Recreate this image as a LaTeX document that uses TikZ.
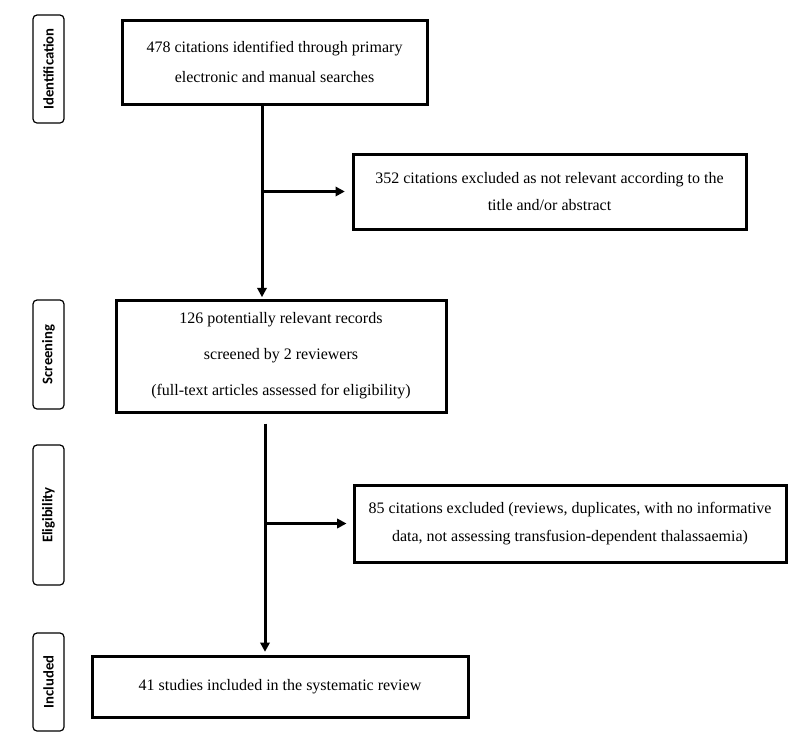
\documentclass[tikz,border=0pt]{standalone}
\usepackage{fontspec}
\setmainfont{Liberation Serif}
\newfontfamily\stagefont{Carlito}
\usetikzlibrary{arrows.meta}

\begin{document}
\begin{tikzpicture}[x=0.75pt, y=-0.75pt, >={Triangle[length=7pt, width=7pt]},
		box/.style={draw, line width=2.25pt, align=center, inner sep=0pt, font=\fontsize{12}{#1}\selectfont},
		stage/.style={draw, line width=0.9pt, rounded corners=3pt, rotate=90, minimum height=23.25pt, inner sep=0pt, font=\stagefont\bfseries\fontsize{11}{13}\selectfont},
		flow/.style={->, line width=2.25pt}]
		\useasboundingbox (0,0) rectangle (800,743);
		\foreach[count=\i] \stagename/\ymid/\len in {Identification/69/81, Screening/354.5/81.75, Eligibility/515/105, Included/682/73.5} {
			\node[stage, minimum width=\len pt] (stage-\i) at (48.5,\ymid) {\stagename};
		}
		\node[box=22.5, minimum width=228.75pt, minimum height=63pt] (found) at (274.5,62) {478 citations identified through primary\\electronic and manual searches};
		\node[box=20.25, minimum width=294.75pt, minimum height=56.25pt] (excl-1) at (549.5,191.5) {352 citations excluded as not relevant according to the\\title and/or abstract};
		\node[box=27, minimum width=247.5pt, minimum height=84pt] (screened) at (281,356) {126 potentially relevant records\\screened by 2 reviewers\\(full-text articles assessed for eligibility)};
		\node[box=21, minimum width=324pt, minimum height=57.75pt] (excl-2) at (570,523.5) {85 citations excluded (reviews, duplicates, with no informative\\data, not assessing transfusion-dependent thalassaemia)};
		\node[box=14, minimum width=282pt, minimum height=45.75pt] (incl) at (280,686.5) {41 studies included in the systematic review};
		\coordinate (split-1) at (262,0);
		\coordinate (split-2) at (265,0);
		\draw[flow, shorten >=1pt] (found.south -| split-1) -- (screened.north -| split-1);
		\draw[flow, shorten >=5pt] (excl-1.west -| split-1) -- (excl-1.west);
		\draw[flow, shorten <=7.5pt, shorten >=2pt] (screened.south -| split-2) -- (incl.north -| split-2);
		\draw[flow, shorten >=4.5pt] (excl-2.west -| split-2) -- (excl-2.west);
	\end{tikzpicture}
\end{document}
